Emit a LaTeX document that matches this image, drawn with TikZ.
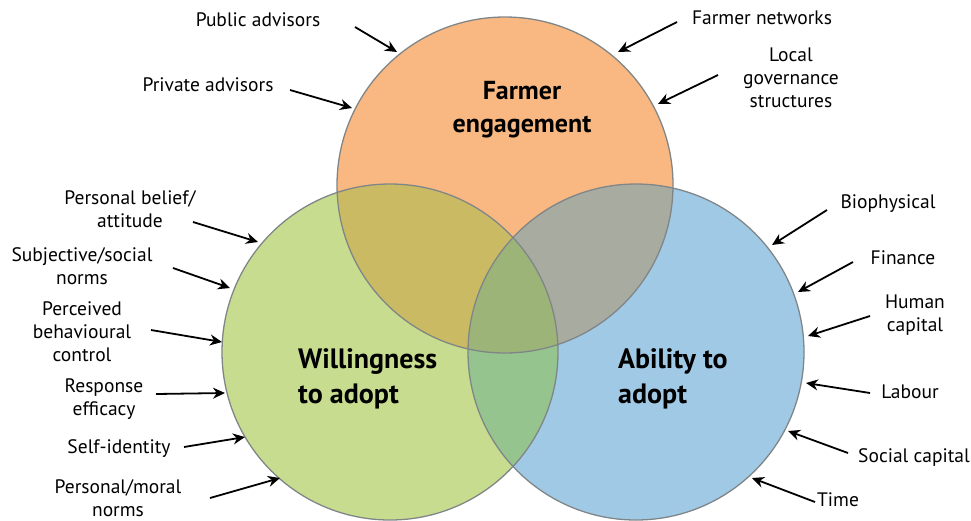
\documentclass[tikz,border=0pt]{standalone}
\usepackage{fontspec}
\setmainfont{PT Sans}
\usetikzlibrary{arrows.meta}
\definecolor{cor}{RGB}{249,184,129}
\definecolor{cgr}{RGB}{200,220,143}
\definecolor{cbl}{RGB}{160,201,229}
\definecolor{cog}{RGB}{201,186,99}
\definecolor{cob}{RGB}{167,171,160}
\definecolor{cgb}{RGB}{150,196,142}
\definecolor{call}{RGB}{156,180,120}
\definecolor{ringc}{RGB}{128,134,136}
\begin{document}
\begin{tikzpicture}[x=1pt,y=-1pt,
  lab/.style={align=center,font=\fontsize{19.5}{23}\selectfont,inner sep=0pt},
  big/.style={align=left,anchor=west,font=\fontsize{28}{35}\selectfont\bfseries,inner sep=0pt},
  arr/.style={-{Stealth[length=12pt,width=11pt]},line width=1.8pt},
  ring/.style={draw=ringc,line width=1.3pt}]
\useasboundingbox (0,0) rectangle (971,520);
\fill[white] (0,0) rectangle (971,520);
\coordinate (O) at (505,185);
\coordinate (G) at (390,352);
\coordinate (B) at (636,352);
% base fills
\fill[cor] (O) circle (168pt);
\fill[cgr] (G) circle (168pt);
\fill[cbl] (B) circle (168pt);
\begin{scope}
  \clip (O) circle (168pt);
  \fill[cog] (G) circle (168pt);
  \fill[cob] (B) circle (168pt);
\end{scope}
\begin{scope}
  \clip (G) circle (168pt);
  \fill[cgb] (B) circle (168pt);
  \clip (B) circle (168pt);
  \fill[call] (O) circle (168pt);
\end{scope}
\draw[ring] (O) circle (168pt);
\draw[ring] (G) circle (168pt);
\draw[ring] (B) circle (168pt);
% central titles
\node[big,align=center,anchor=center,font=\fontsize{26}{33}\selectfont\bfseries] (fe) at (522,110) {Farmer\\engagement};
\node[big] (wa) at (298,379) {Willingness\\to adopt};
\node[big] (aa) at (618,379) {Ability to\\adopt};
% labels
\node[lab] (pub) at (258,20) {Public advisors};
\node[lab] (pri) at (208,85) {Private advisors};
\node[lab] (fn) at (762,18) {Farmer networks};
\node[lab] (lg) at (791,78) {Local\\governance\\structures};
\node[lab] (pb) at (130,209) {Personal belief/\\attitude};
\node[lab] (sn) at (82,266) {Subjective/social\\norms};
\node[lab] (pc) at (82,332) {Perceived\\behavioural\\control};
\node[lab] (re) at (104,399) {Response\\efficacy};
\node[lab] (si) at (119,449) {Self-identity};
\node[lab] (pm) at (118,498) {Personal/moral\\norms};
\node[lab] (bio) at (888,204) {Biophysical};
\node[lab] (fin) at (903,258) {Finance};
\node[lab] (hc) at (915,315) {Human\\capital};
\node[lab] (lab) at (910,392) {Labour};
\node[lab] (sc) at (914,457) {Social capital};
\node[lab] (tim) at (838,500) {Time};
% arrow coordinates
\coordinate (s1) at (355,27);  \coordinate (e1) at (397,52);
\coordinate (s2) at (290,90);  \coordinate (e2) at (352,108);
\coordinate (s3) at (677,22);  \coordinate (e3) at (618,52);
\coordinate (s4) at (718,75);  \coordinate (e4) at (658,104);
\coordinate (s5) at (193,222); \coordinate (e5) at (258,242);
\coordinate (s6) at (173,268); \coordinate (e6) at (230,288);
\coordinate (s7) at (151,330); \coordinate (e7) at (222,342);
\coordinate (s8) at (156,394); \coordinate (e8) at (225,393);
\coordinate (s9) at (184,447); \coordinate (e9) at (245,437);
\coordinate (s10) at (210,498); \coordinate (e10) at (280,478);
\coordinate (s11) at (827,210); \coordinate (e11) at (772,245);
\coordinate (s12) at (853,262); \coordinate (e12) at (798,292);
\coordinate (s13) at (870,316); \coordinate (e13) at (808,336);
\coordinate (s14) at (870,393); \coordinate (e14) at (806,383);
\coordinate (s15) at (848,453); \coordinate (e15) at (788,431);
\coordinate (s16) at (815,502); \coordinate (e16) at (752,478);
\foreach \i in {1,...,16} {\draw[arr] (s\i) -- (e\i);}
\end{tikzpicture}
\end{document}
